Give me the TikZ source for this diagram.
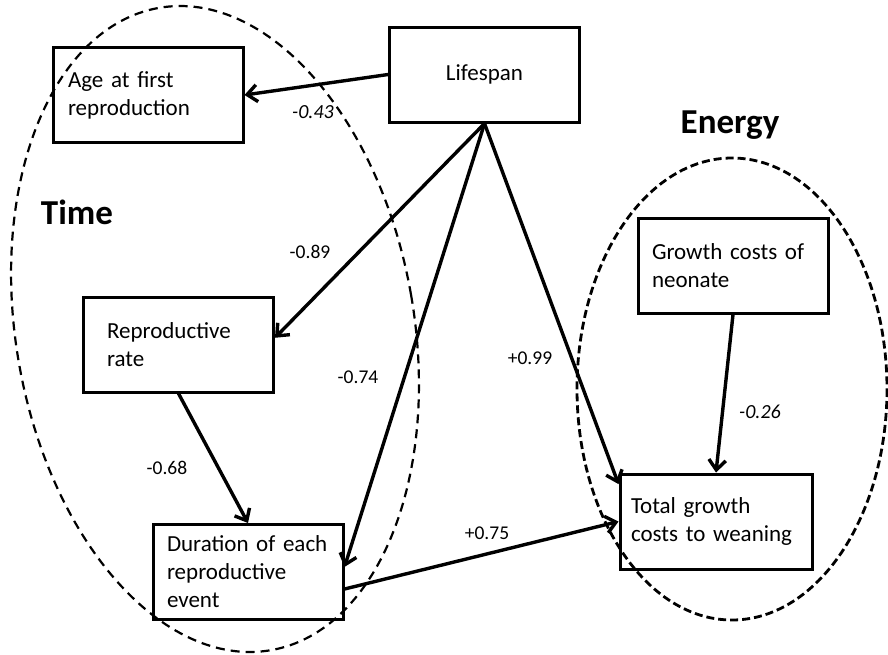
\documentclass[tikz,border=0pt]{standalone}
\usepackage{fontspec}
\setmainfont{Carlito}
\usetikzlibrary{arrows.meta}

\begin{document}
\begin{tikzpicture}[x=1pt, y=-1pt,
    box/.style={draw=black, line width=3pt, minimum width=190pt,
      minimum height=95pt, inner sep=0pt, align=left,
      font=\fontsize{23}{28}\selectfont},
    arr/.style={-{Straight Barb[length=10pt,width=17pt]}, line width=3.4pt},
    coef/.style={font=\fontsize{19.5}{22}\selectfont},
    coefit/.style={font=\itshape\fontsize{20}{22}\selectfont},
    grp/.style={font=\bfseries\fontsize{35}{40}\selectfont}]
    \useasboundingbox (0,0) rectangle (888,654);

    % 两个分组（虚线椭圆）
    \draw[line width=2.2pt, dash pattern=on 9pt off 6pt]
      (215,329) circle [x radius=199, y radius=326, rotate=9.9];
    \draw[line width=2.8pt, dash pattern=on 8pt off 4pt]
      (732,389) circle [x radius=155, y radius=231];
    \node[grp] (time) at (77,212) {Time};
    \node[grp] (energy) at (730,125) {Energy};

    % 各变量方框
    \node[box] (life) at (484.5,74.5) {Lifespan};
    \node[box, text width=160pt] (age) at (148,95) {Age at first\\reproduction};
    \node[box, text width=143pt] (rate) at (178.5,344.5) {Reproductive\\rate};
    \node[box, text width=162pt] (dur) at (248,572)
      {Duration of each\\reproductive\\event};
    \node[box, text width=162pt] (growth) at (733,265.5) {Growth costs of\\neonate};
    \node[box, text width=170pt, minimum width=192pt] (total) at (716,521.5)
      {Total growth\\costs to weaning};

    % 路径箭头
    \draw[arr] (life.west) -- (age.east);
    \draw[arr] (life.south) -- (rate.4);
    \draw[arr] (life.south) -- (dur.3);
    \draw[arr] (life.south) -- (total.159);
    \draw[arr] (rate.south) -- (dur.north);
    \draw[arr] (dur.-10) -- (total.west);
    \draw[arr] (growth.south) -- (total.north);

    % 路径系数
    \node[coefit] (c43) at (313,112) {-0.43};
    \node[coef] (c89) at (310,252) {-0.89};
    \node[coef] (c74) at (358,377) {-0.74};
    \node[coef] (c68) at (167,468) {-0.68};
    \node[coef] (c99) at (530,358) {+0.99};
    \node[coef] (c75) at (487,533) {+0.75};
    \node[coefit] (c26) at (760,412) {-0.26};
\end{tikzpicture}
\end{document}
